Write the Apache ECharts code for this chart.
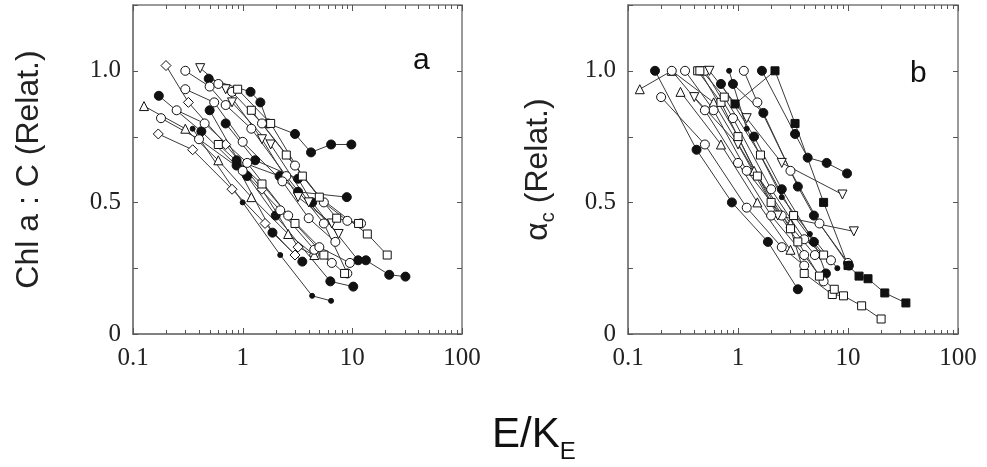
<!DOCTYPE html>
<html><head><meta charset="utf-8">
<script src="https://cdn.jsdelivr.net/npm/echarts@6/dist/echarts.min.js"></script>
<style>html,body{margin:0;padding:0;background:#fff}#c{width:987px;height:467px}</style>
</head><body><div id="c"></div>
<script>
// ---------- DATA ----------
const xTickLabels = ['0.1', '1', '10', '100'];
const yTickLabels = ['0', '0.5', '1.0'];
const xMajorTicks = [0.1, 1, 10, 100];
const xMinorTicks = [0.2,0.3,0.4,0.5,0.6,0.7,0.8,0.9,2,3,4,5,6,7,8,9,20,30,40,50,60,70,80,90];
const yTicks = [0, 0.25, 0.5, 0.75, 1.0, 1.25];

// Panel a: Chl a : C (relative) vs E/K_E
const a01 = [[0.49,0.97],[1.18,0.92],[1.45,0.88],[1.7,0.80],[3.0,0.76],[4.2,0.69],[6.4,0.72],[9.8,0.72]];
const a02 = [[0.172,0.905],[0.42,0.77],[0.88,0.64],[1.87,0.385],[3.5,0.275]];
const a03 = [[0.88,0.66],[2.17,0.60],[3.2,0.54],[8.9,0.52]];
const a04 = [[0.7,0.80],[1.3,0.66],[3.2,0.59],[4.3,0.50],[11.3,0.28],[13.3,0.28],[21.7,0.225],[30.5,0.218]];
const a05 = [[0.5,0.85],[1.1,0.60],[2.0,0.45],[6.3,0.20],[10.2,0.18]];
const a06 = [[0.35,0.78],[1.0,0.50],[2.2,0.30],[4.3,0.145],[6.4,0.126]];
const a07 = [[0.2,1.02],[0.32,0.88],[0.7,0.72],[1.5,0.55],[3.2,0.33],[4.5,0.30]];
const a08 = [[0.3,1.0],[0.5,0.94],[0.7,0.87],[1.2,0.78],[2.5,0.60],[5.5,0.42],[9.0,0.23]];
const a09 = [[0.41,1.01],[0.7,0.93],[1.5,0.74],[3.2,0.52],[6.5,0.42]];
const a10 = [[0.126,0.866],[0.3,0.78],[0.6,0.66],[1.2,0.52],[2.6,0.38],[4.5,0.30]];
const a11 = [[0.17,0.76],[0.35,0.70],[0.8,0.55],[1.6,0.42],[3.0,0.30]];
const a12 = [[0.18,0.82],[0.4,0.74],[1.0,0.62],[2.2,0.47],[4.5,0.32],[6.5,0.27]];
const a13 = [[0.3,0.93],[0.55,0.88],[1.0,0.73],[2.3,0.58],[4.0,0.44],[7.0,0.35]];
const a14 = [[0.6,0.95],[0.8,0.92],[1.5,0.80],[3.0,0.64],[5.5,0.50],[9.0,0.43],[12,0.42]];
const a15 = [[0.9,0.93],[1.8,0.80],[3.5,0.60],[7.2,0.44],[11.4,0.42]];
const a16 = [[1.2,0.85],[2.5,0.68],[5.0,0.52],[13.7,0.38],[20.8,0.30]];
const a17 = [[0.6,0.72],[1.5,0.57],[3.0,0.42],[5.5,0.30],[8.5,0.23]];
const a18 = [[0.25,0.85],[0.45,0.80],[1.1,0.65],[2.6,0.45],[5.0,0.33],[9.5,0.27]];
const a19 = [[0.8,0.88],[1.8,0.72],[4.0,0.50],[7.5,0.38]];

// Panel b: alpha_C (relative) vs E/K_E
const b01 = [[0.176,1.0],[0.42,0.70],[0.88,0.50],[1.87,0.35],[3.5,0.17]];
const b02 = [[0.128,0.93],[0.25,1.0],[0.6,0.88],[1.4,0.62],[3.0,0.42]];
const b03 = [[0.2,0.90],[0.5,0.72],[1.2,0.48],[2.5,0.33],[4.0,0.26]];
const b04 = [[0.33,1.0],[0.6,0.85],[1.2,0.62],[2.5,0.45],[5.0,0.30]];
const b05 = [[0.43,1.0],[0.7,0.88],[1.5,0.60],[3.0,0.40],[4.0,0.23],[7.2,0.15],[9.1,0.145],[13.3,0.107],[20,0.057]];
const b06 = [[0.47,1.0],[0.75,0.90],[1.6,0.68],[3.2,0.45],[6.0,0.30]];
const b07 = [[0.5,1.0],[0.9,0.82],[2.0,0.55],[4.0,0.36],[7.0,0.28]];
const b08 = [[0.83,1.0],[1.2,0.78],[2.5,0.52],[4.5,0.38],[8.0,0.25]];
const b09 = [[1.13,1.0],[1.5,0.88],[3.0,0.62],[5.5,0.42],[10,0.27]];
const b10 = [[1.65,1.0],[3.3,0.76],[4.3,0.67],[6.4,0.65],[9.8,0.61]];
const b11 = [[0.94,0.874],[2.17,1.0],[3.3,0.80],[6.0,0.50],[10,0.26],[12.6,0.22],[15.2,0.21],[21.6,0.156],[33.6,0.118]];
const b12 = [[0.9,0.95],[1.7,0.84],[3.5,0.56],[4.9,0.45],[10.2,0.26]];
const b13 = [[0.55,1.0],[1.2,0.82],[2.5,0.65],[8.9,0.53]];
const b14 = [[0.4,0.90],[1.0,0.72],[2.3,0.45],[11.3,0.39]];
const b15 = [[0.7,0.95],[1.4,0.75],[2.5,0.55],[4.9,0.35],[6.3,0.23]];
const b16 = [[0.25,1.0],[0.5,0.85],[1.0,0.65],[2.0,0.45],[4.0,0.30],[6.0,0.20]];
const b17 = [[0.45,1.0],[1.0,0.75],[2.0,0.50],[3.5,0.35],[5.5,0.22],[7.5,0.17]];
const b18 = [[0.3,0.92],[0.7,0.72],[1.5,0.50],[3.0,0.32]];

// marker kinds (style lookup keys)
const aKinds = ['fc','fc','fc','fc','fc','dot','od','oc','otd','ot','od','oc','oc','oc','os','os','os','oc','otd'];
const bKinds = ['fc','ot','oc','oc','os','os','oc','dot','oc','fc','fs','fc','otd','otd','fc','oc','os','ot'];
const aSeries = [a01,a02,a03,a04,a05,a06,a07,a08,a09,a10,a11,a12,a13,a14,a15,a16,a17,a18,a19];
const bSeries = [b01,b02,b03,b04,b05,b06,b07,b08,b09,b10,b11,b12,b13,b14,b15,b16,b17,b18];

// ---------- STYLE ----------
const kindStyle = {
  fc: {symbol:'circle', size:9, fill:'#111'},
  fs: {symbol:'rect', size:8, fill:'#111'},
  dot:{symbol:'circle', size:5, fill:'#111'},
  oc: {symbol:'circle', size:9, fill:'#fff'},
  os: {symbol:'rect', size:8, fill:'#fff'},
  od: {symbol:'diamond', size:10, fill:'#fff'},
  ot: {symbol:'triangle', size:9, fill:'#fff'},
  otd:{symbol:'triangle', size:9, fill:'#fff', rot:180}
};
const axisCol = '#7a7a7a';
const tickCol = '#555';
const serif = '"Liberation Serif","Times New Roman",serif';
const sans = '"Liberation Sans",Arial,sans-serif';

const grids = [
  {left:133, top:5, width:329, height:329, show:true, borderColor:axisCol, borderWidth:1.5},
  {left:628, top:5, width:330, height:329, show:true, borderColor:axisCol, borderWidth:1.5}
];
const xAxes = [], yAxes = [];
[0,1].forEach(g => {
  xAxes.push({type:'log', logBase:10, min:0.1, max:100, gridIndex:g,
    axisLine:{show:true, onZero:false, lineStyle:{color:axisCol, width:1.5}},
    axisTick:{show:false}, splitLine:{show:false},
    axisLabel:{color:'#222', fontFamily:serif, fontSize:25, margin:12,
      formatter: v => { const s = String(+v.toPrecision(3)); return xTickLabels.includes(s) ? s : ''; }}
  });
  yAxes.push({type:'value', min:0, max:1.25, interval:0.25, gridIndex:g,
    axisLine:{show:true, onZero:false, lineStyle:{color:axisCol, width:1.5}},
    axisTick:{show:false}, splitLine:{show:false},
    axisLabel:{color:'#222', fontFamily:serif, fontSize:25, margin:12,
      formatter: v => { const s = v === 0 ? '0' : v.toFixed(1); return (Math.abs(v*2-Math.round(v*2))<1e-9 && yTickLabels.includes(s)) ? s : ''; }}
  });
});
// axis titles
yAxes[0].name = 'Chl a : C (Relat.)';
yAxes[0].nameLocation = 'middle'; yAxes[0].nameGap = 88; yAxes[0].nameRotate = 90;
yAxes[0].nameTextStyle = {fontFamily:sans, fontSize:32, color:'#222'};
yAxes[1].name = '{a|α}{b|c}{a| (Relat.)}';
yAxes[1].nameLocation = 'middle'; yAxes[1].nameGap = 74; yAxes[1].nameRotate = 90;
yAxes[1].nameTextStyle = {fontFamily:sans, fontSize:32, color:'#222',
  rich:{a:{fontFamily:sans, fontSize:32, color:'#222', lineHeight:40, verticalAlign:'bottom'},
        b:{fontFamily:sans, fontSize:20, color:'#222', lineHeight:20, verticalAlign:'bottom', padding:[0,0,-4,0]}}};

function makeSeries(list, kinds, g) {
  return list.map((d, i) => {
    const k = kindStyle[kinds[i]];
    return {type:'line', xAxisIndex:g, yAxisIndex:g, data:d, showAllSymbol:true,
      symbol:k.symbol, symbolSize:k.size, symbolRotate:k.rot||0,
      lineStyle:{color:'#3a3a3a', width:1}, itemStyle:{color:k.fill, borderColor:'#111', borderWidth:1},
      emphasis:{disabled:true}, z:3};
  });
}
// tick marks on all four sides, placed through the axes' own scales
function tickSeries(g) {
  const data = [];
  xMajorTicks.forEach(v => data.push(['x', v, 6]));
  xMinorTicks.forEach(v => data.push(['x', v, 4]));
  yTicks.forEach(v => data.push(['y', v, 5]));
  return {type:'custom', xAxisIndex:g, yAxisIndex:g, clip:false,
    dimensions:['kind','v','len'], encode:{x:1, y:1},
    data: data,
    renderItem: (params, api) => {
      const d = data[params.dataIndex];
      const st = {stroke:tickCol, lineWidth:1};
      if (d[0] === 'x') {
        const b = api.coord([d[1], 0]), t = api.coord([d[1], 1.25]);
        const x = Math.round(b[0]) + 0.5;
        return {type:'group', children:[
          {type:'line', shape:{x1:x, y1:b[1], x2:x, y2:b[1]-d[2]}, style:st},
          {type:'line', shape:{x1:x, y1:t[1], x2:x, y2:t[1]+d[2]}, style:st}]};
      } else {
        const l = api.coord([0.1, d[1]]), r = api.coord([100, d[1]]);
        const y = Math.round(l[1]) + 0.5;
        return {type:'group', children:[
          {type:'line', shape:{x1:l[0], y1:y, x2:l[0]+d[2], y2:y}, style:st},
          {type:'line', shape:{x1:r[0], y1:y, x2:r[0]-d[2], y2:y}, style:st}]};
      }
    }};
}

const chart = echarts.init(document.getElementById('c'), null, {renderer:'canvas'});
chart.setOption({
  animation:false,
  backgroundColor:'#fff',
  tooltip:{show:false},
  grid: grids, xAxis: xAxes, yAxis: yAxes,
  series: [].concat(makeSeries(aSeries, aKinds, 0), makeSeries(bSeries, bKinds, 1), [tickSeries(0), tickSeries(1)]),
  graphic: [
    {type:'text', left:413, top:46, style:{text:'a', fontFamily:sans, fontSize:30, fill:'#111'}},
    {type:'text', left:910, top:59, style:{text:'b', fontFamily:sans, fontSize:30, fill:'#111'}},
    {type:'text', left:492, top:414, style:{text:'{m|E/K}{s|E}', rich:{
      m:{fontFamily:sans, fontSize:42, fill:'#111', lineHeight:46, verticalAlign:'bottom'},
      s:{fontFamily:sans, fontSize:24, fill:'#111', lineHeight:24, verticalAlign:'bottom', padding:[0,0,-8,0]}}}}
  ]
});
</script></body></html>
